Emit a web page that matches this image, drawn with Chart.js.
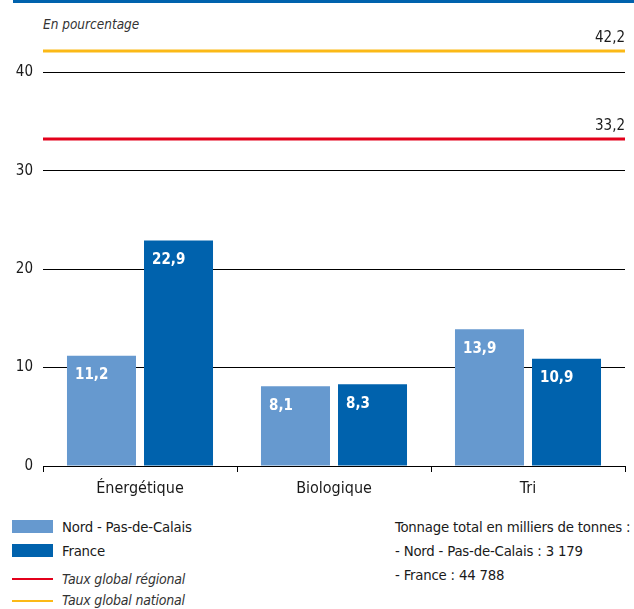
<!DOCTYPE html>
<html lang="fr">
<head>
<meta charset="utf-8">
<script src="https://cdn.jsdelivr.net/npm/chart.js@4.4.1/dist/chart.umd.min.js"></script>
<style>
    body { margin: 0; background: #fff; }
    #wrap { position: relative; width: 634px; height: 609px; font-family: 'DejaVu Sans Condensed', 'Liberation Sans', sans-serif; color: #1a1a1a; }
    #topline { position: absolute; left: 13px; top: 0; width: 621px; height: 3px; background: #0062ad; }
    #unit { position: absolute; left: 43px; top: 16px; font-size: 13.5px; font-style: italic; color: #333; }
    canvas { position: absolute; left: 0; top: 0; }
    .lg { position: absolute; font-size: 14.8px; line-height: 18px; white-space: nowrap; letter-spacing: -0.2px; }
    .box { position: absolute; left: 12px; width: 41px; height: 13px; }
    .ln { position: absolute; left: 12px; width: 41px; height: 2px; }
    .it { font-style: italic; color: #333; font-size: 14px; }
</style>
</head>
<body>
<div id="wrap">
    <div id="topline"></div>
    <div id="unit">En pourcentage</div>
    <canvas id="chart" width="634" height="500"></canvas>

    <div class="box" style="top:520px; background:#6699cf;"></div>
    <div class="lg" style="left:62px; top:518px;">Nord - Pas-de-Calais</div>
    <div class="box" style="top:544px; background:#0062ad;"></div>
    <div class="lg" style="left:62px; top:542px;">France</div>
    <div class="ln" style="top:578px; background:#e3001b;"></div>
    <div class="lg it" style="left:62px; top:570px;">Taux global régional</div>
    <div class="ln" style="top:600px; background:#fbb917;"></div>
    <div class="lg it" style="left:62px; top:591px;">Taux global national</div>

    <div class="lg" style="left:395px; top:518px;">Tonnage total en milliers de tonnes :</div>
    <div class="lg" style="left:395px; top:542px;">- Nord - Pas-de-Calais : 3 179</div>
    <div class="lg" style="left:395px; top:566px;">- France : 44 788</div>
</div>

<script>
// Valorisation des déchets, en pourcentage
const categories = ['Énergétique', 'Biologique', 'Tri'];
const nordValues = [11.2, 8.1, 13.9];
const franceValues = [22.9, 8.3, 10.9];
const yTicks = [0, 10, 20, 30, 40];

// Taux globaux (lignes horizontales)
const refValues = [33.2, 42.2];
const refLabels = ['33,2', '42,2'];
const refColors = ['#e3001b', '#fbb917'];

const FONT = "'DejaVu Sans Condensed', 'Liberation Sans', sans-serif";
const fmt = (v) => v.toFixed(1).replace('.', ',');

// Draw the global rate lines with their value on the right
const refLinesPlugin = {
    id: 'refLines',
    afterDatasetsDraw(chart) {
        const { ctx, chartArea, scales } = chart;
        ctx.save();
        refValues.forEach((v, i) => {
            const y = Math.round(scales.y.getPixelForValue(v));
            ctx.strokeStyle = refColors[i];
            ctx.lineWidth = 3;
            ctx.beginPath();
            ctx.moveTo(chartArea.left, y);
            ctx.lineTo(chartArea.right, y);
            ctx.stroke();

            ctx.fillStyle = '#1a1a1a';
            ctx.font = '15px ' + FONT;
            ctx.textAlign = 'right';
            ctx.textBaseline = 'bottom';
            ctx.fillText(refLabels[i], chartArea.right, y - 5);
        });
        ctx.restore();
    }
};

// White values inside the top of each bar
const barValuesPlugin = {
    id: 'barValues',
    afterDatasetsDraw(chart) {
        const { ctx } = chart;
        ctx.save();
        ctx.fillStyle = '#fff';
        ctx.font = 'bold 15px ' + FONT;
        ctx.textAlign = 'left';
        ctx.textBaseline = 'top';
        chart.data.datasets.forEach((ds, di) => {
            chart.getDatasetMeta(di).data.forEach((bar, i) => {
                const left = bar.x - bar.width / 2;
                ctx.fillText(fmt(ds.data[i]), left + 8, bar.y + 12);
            });
        });
        ctx.restore();
    }
};

new Chart(document.getElementById('chart'), {
    type: 'bar',
    data: {
        labels: categories,
        datasets: [
            {
                label: 'Nord - Pas-de-Calais',
                data: nordValues,
                backgroundColor: '#6699cf',
                categoryPercentage: 0.794,
                barPercentage: 0.896
            },
            {
                label: 'France',
                data: franceValues,
                backgroundColor: '#0062ad',
                categoryPercentage: 0.794,
                barPercentage: 0.896
            }
        ]
    },
    options: {
        responsive: false,
        animation: false,
        layout: { padding: { top: 23, right: 9, left: 0, bottom: 0 } },
        plugins: {
            legend: { display: false },
            tooltip: { enabled: false }
        },
        scales: {
            x: {
                afterFit: (scale) => { scale.height = 34; },
                border: { display: true, color: '#000', width: 1 },
                grid: { drawOnChartArea: false, drawTicks: true, tickLength: 6, color: '#000', offset: true },
                ticks: { color: '#1a1a1a', font: { family: FONT, size: 16 }, padding: 7 }
            },
            y: {
                min: 0,
                max: 45,
                afterFit: (scale) => { scale.width = 43; },
                afterBuildTicks: (scale) => { scale.ticks = yTicks.map(v => ({ value: v })); },
                border: { display: false },
                grid: { color: '#000', lineWidth: 1, drawTicks: false },
                ticks: { color: '#1a1a1a', font: { family: FONT, size: 15 }, padding: 10 }
            }
        }
    },
    plugins: [refLinesPlugin, barValuesPlugin]
});
</script>
</body>
</html>
